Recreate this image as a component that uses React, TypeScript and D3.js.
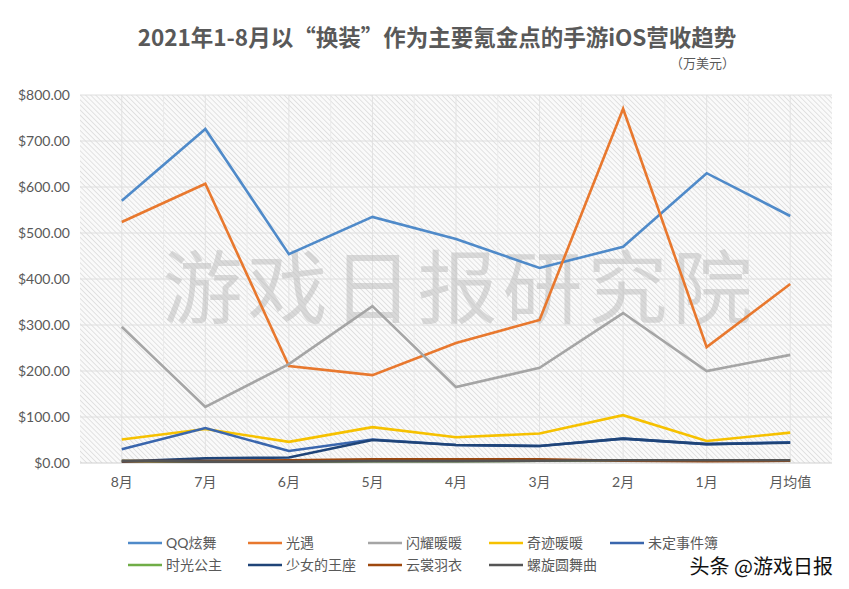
import React from "react";
import * as d3 from "d3";

const categories = ["8月", "7月", "6月", "5月", "4月", "3月", "2月", "1月", "月均值"];
const seriesNames = ["QQ炫舞", "光遇", "闪耀暖暖", "奇迹暖暖", "未定事件簿", "时光公主", "少女的王座", "云裳羽衣", "螺旋圆舞曲"];
const qqxw = [570, 726, 454, 535, 487, 424, 470, 630, 537];
const guangyu = [524, 607, 211, 191, 261, 311, 770, 252, 389];
const shanyao = [296, 122, 215, 341, 165, 207, 326, 200, 235];
const qiji = [51, 74, 46, 78, 56, 64, 104, 48, 66];
const weiding = [30, 76, 26, 51, 39, 37, 53, 41, 45];
const shiguang = [4, 3, 3, 4, 4, 5, 6, 5, 5];
const shaonv = [3, 10, 12, 50, 39, 37, 53, 41, 44];
const yunshang = [4, 4, 6, 8, 8, 8, 5, 4, 5];
const luoxuan = [5, 3, 3, 4, 4, 5, 6, 6, 6];
const seriesValues = [qqxw, guangyu, shanyao, qiji, weiding, shiguang, shaonv, yunshang, luoxuan];
const seriesColors = ["#4F8AC9", "#E8782E", "#A5A5A5", "#F6C100", "#3A66AD", "#70AD47", "#1F4478", "#9E480E", "#555555"];
const yTicks = [0, 100, 200, 300, 400, 500, 600, 700, 800];

const W = 849;
const H = 589;
const left = 80;
const right = 832;
const top = 95;
const bottom = 463;

export default function App() {
  const x = d3.scalePoint<string>().domain(categories).range([left, right]).padding(0.5);
  const y = d3.scaleLinear().domain([0, 800]).range([bottom, top]);
  const line = d3
    .line<number>()
    .x((_, i) => x(categories[i]) as number)
    .y((d) => y(d));
  const step = x.step();
  const font = "Lato, 'Noto Sans CJK SC', sans-serif";
  const cjk = "'Noto Sans CJK SC', sans-serif";
  const legendCols = [128, 248, 368, 489, 610];
  const legendRows = [543, 565];
  const legendOrder = [
    [0, 0, 0], [1, 1, 0], [2, 2, 0], [3, 3, 0], [4, 4, 0],
    [5, 0, 1], [6, 1, 1], [7, 2, 1], [8, 3, 1],
  ];
  return (
    <svg width={W} height={H} style={{ position: "absolute", left: 0, top: 0, background: "#fff" }}>
      <defs>
        <pattern id="hatch" width="3.6" height="3.6" patternUnits="userSpaceOnUse" patternTransform="rotate(-45)">
          <rect width="3.6" height="3.6" fill="#fafafa" />
          <line x1="0" y1="0" x2="0" y2="3.6" stroke="#cfcfcf" strokeWidth="1.1" />
        </pattern>
      </defs>
      <rect x={0} y={0} width={W} height={H} fill="#fff" />
      <text x={437} y={46} textAnchor="middle" fontFamily={cjk} fontWeight="bold" fontSize={22.5} fill="#595959">
        2021年1-8月以“换装”作为主要氪金点的手游iOS营收趋势
      </text>
      <text x={735} y={68} textAnchor="end" fontFamily={cjk} fontSize={13} fill="#595959">
        （万美元）
      </text>
      <rect x={left} y={top} width={right - left} height={bottom - top} fill="url(#hatch)" />
      {categories.map((c, i) => (
        <g key={c}>
          <line x1={x(c)} x2={x(c)} y1={top} y2={bottom} stroke="#e2e2e2" strokeWidth={1} />
          {i > 0 && (
            <line x1={(x(c) as number) - step / 2} x2={(x(c) as number) - step / 2} y1={top} y2={bottom} stroke="#ebebeb" strokeWidth={1} />
          )}
        </g>
      ))}
      {yTicks.map((t) => (
        <g key={t}>
          <line x1={left} x2={right} y1={y(t)} y2={y(t)} stroke={t === 0 ? "#d0d0d0" : "#dedede"} strokeWidth={1} />
          <text x={70} y={y(t) + 5} textAnchor="end" fontFamily={font} fontSize={14} fill="#595959">
            {"$" + d3.format(".2f")(t)}
          </text>
        </g>
      ))}
      <text x={460} y={317} textAnchor="middle" fontFamily={cjk} fontSize={80} fill="#bdbdbd" fillOpacity={0.55} letterSpacing={5}>
        游戏日报研究院
      </text>
      {categories.map((c) => (
        <text key={c} x={x(c)} y={487} textAnchor="middle" fontFamily={font} fontSize={14} fill="#595959">
          {c}
        </text>
      ))}
      {seriesValues.map((vals, i) => (
        <path key={seriesNames[i]} d={line(vals) || ""} fill="none" stroke={seriesColors[i]} strokeWidth={2.6} strokeLinejoin="miter" />
      ))}
      {legendOrder.map(([si, col, row]) => (
        <g key={seriesNames[si]}>
          <line x1={legendCols[col]} x2={legendCols[col] + 34} y1={legendRows[row]} y2={legendRows[row]} stroke={seriesColors[si]} strokeWidth={2.6} />
          <text x={legendCols[col] + 38} y={legendRows[row] + 5} fontFamily={font} fontSize={14} fill="#595959">
            {seriesNames[si]}
          </text>
        </g>
      ))}
      <text x={833} y={574} textAnchor="end" fontFamily={cjk} fontSize={20} fill="#111" stroke="#fff" strokeWidth={3} paintOrder="stroke">
        头条 @游戏日报
      </text>
    </svg>
  );
}
